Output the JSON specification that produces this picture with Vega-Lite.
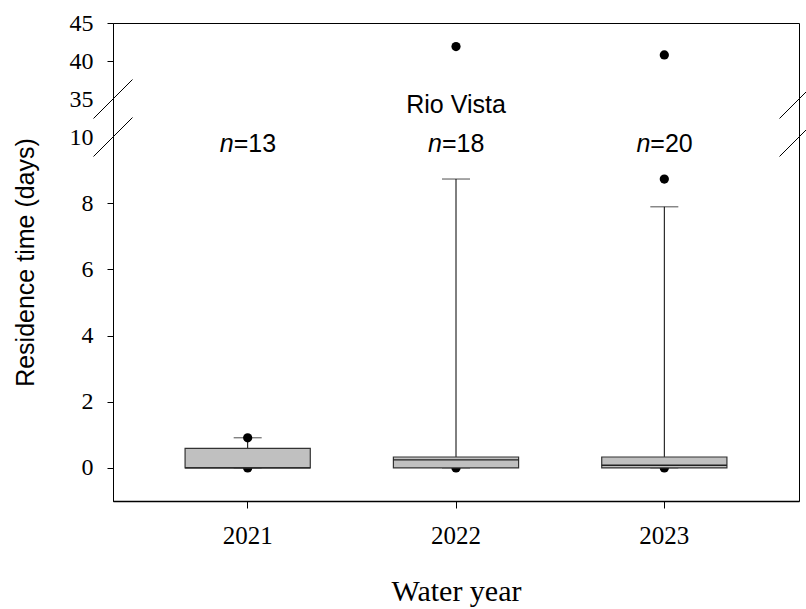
{
  "$schema": "https://vega.github.io/schema/vega-lite/v6.json",
  "width": 686,
  "height": 478,
  "autosize": "none",
  "padding": {"left": 113, "top": 23, "right": 7, "bottom": 108},
  "background": "white",
  "datasets": {
    "boxes": [
      {"year": "2021", "q1": 0, "q3": 0.59, "median": 0.0, "lo": 0, "hi": 0.91, "n": 13},
      {"year": "2022", "q1": 0, "q3": 0.33, "median": 0.24, "lo": 0, "hi": 8.73, "n": 18},
      {"year": "2023", "q1": 0, "q3": 0.33, "median": 0.08, "lo": 0, "hi": 7.89, "n": 20}
    ],
    "outliers": [
      {"year": "2021", "value": 0.91},
      {"year": "2021", "value": 0},
      {"year": "2022", "value": 41.9},
      {"year": "2022", "value": 0},
      {"year": "2023", "value": 40.8},
      {"year": "2023", "value": 8.73},
      {"year": "2023", "value": 0}
    ],
    "breaks": [
      {"side": "left", "value": 35},
      {"side": "left", "value": 10},
      {"side": "right", "value": 35},
      {"side": "right", "value": 10}
    ],
    "labels": [
      {"year": "2021", "value": 9.79, "count": "=13"},
      {"year": "2022", "value": 9.79, "count": "=18"},
      {"year": "2023", "value": 9.79, "count": "=20"}
    ],
    "site": [
      {"year": "2022", "value": 34.2, "label": "Rio Vista"}
    ]
  },
  "layer": [
    {
      "encoding": {
        "x": {
          "field": "year",
          "type": "nominal",
          "scale": {"type": "band", "paddingInner": 0.399, "paddingOuter": 0.346},
          "axis": {
            "title": "Water year",
            "orient": "bottom",
            "labelAngle": 0,
            "labelFont": "Liberation Serif",
            "labelFontSize": 25,
            "labelColor": "black",
            "labelPadding": 15,
            "tickSize": 7,
            "tickColor": "black",
            "domainColor": "black",
            "domainWidth": 1.5,
            "titleFont": "Liberation Serif",
            "titleFontSize": 30,
            "titleFontWeight": "normal",
            "titleColor": "black",
            "titlePadding": 28,
            "grid": false
          }
        },
        "y": {
          "type": "quantitative",
          "scale": {"domain": [-1, 10, 30, 45], "range": [478, 114, 114, 0], "nice": false, "zero": false},
          "axis": {
            "title": "Residence time (days)",
            "values": [0, 2, 4, 6, 8, 10, 35, 40, 45],
            "labelFont": "Liberation Serif",
            "labelFontSize": 24,
            "labelColor": "black",
            "labelPadding": 14,
            "tickSize": 6,
            "tickColor": "black",
            "tickOpacity": {"condition": {"test": "datum.value == 35 || datum.value == 10", "value": 0}, "value": 1},
            "domainColor": "black",
            "titleFont": "Liberation Sans",
            "titleFontSize": 25,
            "titleFontWeight": "normal",
            "titleColor": "black",
            "titlePadding": 31,
            "grid": false
          }
        }
      },
      "layer": [
        {
          "data": {"name": "outliers"},
          "mark": {"type": "point", "filled": true, "color": "black", "opacity": 1, "size": 85},
          "encoding": {"y": {"field": "value", "type": "quantitative"}}
        },
        {
          "data": {"name": "boxes"},
          "mark": {"type": "rule", "color": "black", "strokeWidth": 1},
          "encoding": {"y": {"field": "q3", "type": "quantitative"}, "y2": {"field": "hi"}}
        },
        {
          "data": {"name": "boxes"},
          "mark": {"type": "tick", "color": "black", "size": 28, "thickness": 1},
          "encoding": {"y": {"field": "hi", "type": "quantitative"}}
        },
        {
          "data": {"name": "boxes"},
          "mark": {"type": "tick", "color": "black", "size": 28, "thickness": 1},
          "encoding": {"y": {"field": "lo", "type": "quantitative"}}
        },
        {
          "data": {"name": "boxes"},
          "mark": {"type": "bar", "fill": "#c0c0c0", "stroke": "#333333", "strokeWidth": 1.2},
          "encoding": {"y": {"field": "q1", "type": "quantitative"}, "y2": {"field": "q3"}}
        },
        {
          "data": {"name": "boxes"},
          "mark": {"type": "bar", "fill": "#c0c0c0", "stroke": "#222222", "strokeWidth": 1.3},
          "encoding": {"y": {"field": "median", "type": "quantitative"}, "y2": {"field": "median"}}
        },
        {
          "data": {"name": "labels"},
          "mark": {"type": "text", "text": "n", "font": "Liberation Sans", "fontSize": 25, "fontStyle": "italic", "align": "right", "baseline": "middle", "dx": -14, "color": "black"},
          "encoding": {"y": {"field": "value", "type": "quantitative"}}
        },
        {
          "data": {"name": "labels"},
          "mark": {"type": "text", "font": "Liberation Sans", "fontSize": 25, "align": "left", "baseline": "middle", "dx": -14, "color": "black"},
          "encoding": {"y": {"field": "value", "type": "quantitative"}, "text": {"field": "count"}}
        },
        {
          "data": {"name": "site"},
          "mark": {"type": "text", "font": "Liberation Sans", "fontSize": 25, "align": "center", "baseline": "middle", "color": "black"},
          "encoding": {"y": {"field": "value", "type": "quantitative"}, "text": {"field": "label"}}
        }
      ]
    },
    {
      "data": {"name": "breaks"},
      "mark": {"type": "point", "shape": "M -1 1 L 1 -1", "size": 1521, "filled": false, "stroke": "black", "strokeWidth": 1, "opacity": 1, "clip": false},
      "encoding": {
        "x": {"field": "side", "type": "nominal", "scale": {"type": "point", "padding": 0, "domain": ["left", "right"]}, "axis": null},
        "y": {"field": "value", "type": "quantitative"}
      }
    }
  ],
  "resolve": {"scale": {"x": "independent"}},
  "config": {
    "view": {"stroke": "black", "strokeWidth": 1}
  }
}
